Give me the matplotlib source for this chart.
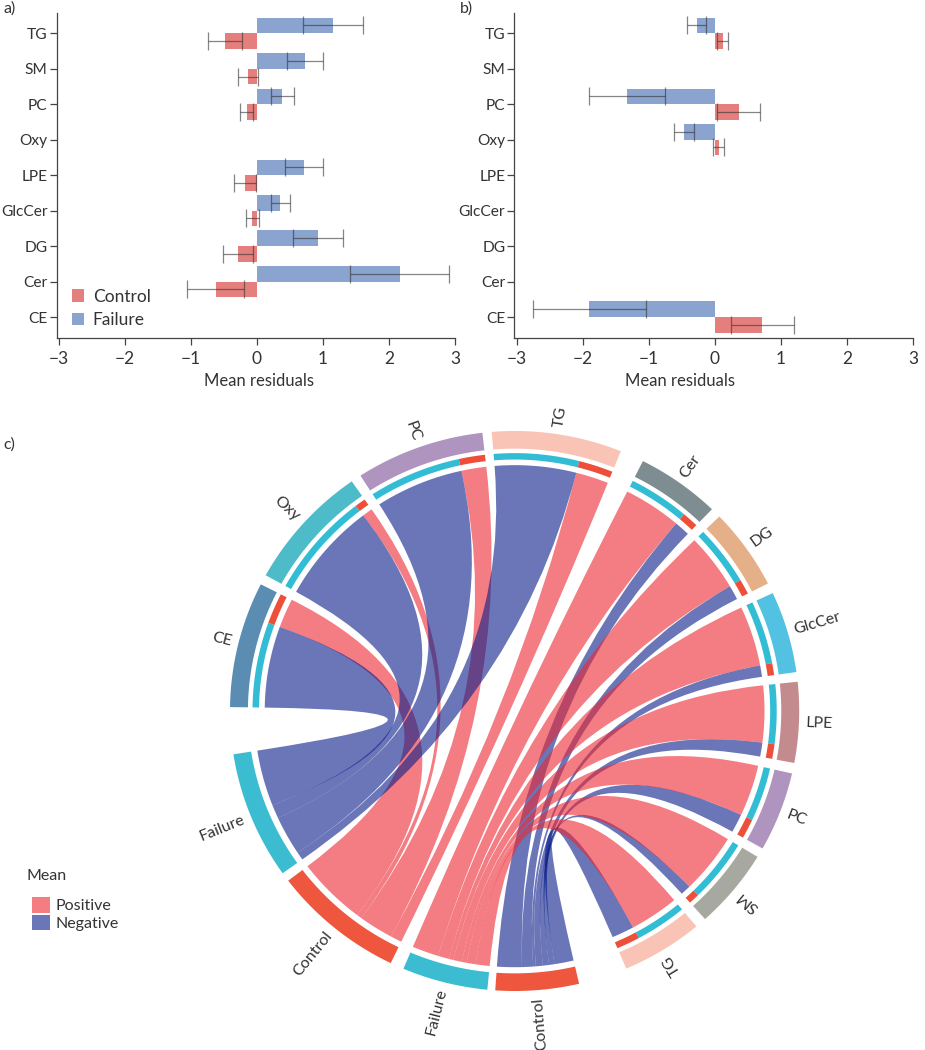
#! /usr/bin python

import numpy as np
import matplotlib
matplotlib.use('agg')
import matplotlib.pyplot as plt
from matplotlib.patches import PathPatch, Patch
from matplotlib.path import Path

#------------------------------------------------------------------------------
# DATA
#------------------------------------------------------------------------------

categories = ['CE', 'Cer', 'DG', 'GlcCer', 'LPE', 'Oxy', 'PC', 'SM', 'TG']

# panel a) mean residuals and error half widths
a_failure = [np.nan, 2.16, 0.92, 0.355, 0.71, np.nan, 0.385, 0.73, 1.15]
a_failure_err = [np.nan, 0.745, 0.38, 0.14, 0.285, np.nan, 0.17, 0.275, 0.455]
a_control = [np.nan, -0.625, -0.282, -0.066, -0.176, np.nan, -0.156, -0.136, -0.485]
a_control_err = [np.nan, 0.425, 0.227, 0.093, 0.169, np.nan, 0.10, 0.153, 0.254]

# panel b)
b_failure = [-1.90, np.nan, np.nan, np.nan, np.nan, -0.469, -1.33, np.nan, -0.277]
b_failure_err = [0.855, np.nan, np.nan, np.nan, np.nan, 0.144, 0.575, np.nan, 0.14]
b_control = [0.716, np.nan, np.nan, np.nan, np.nan, 0.055, 0.358, np.nan, 0.116]
b_control_err = [0.477, np.nan, np.nan, np.nan, np.nan, 0.083, 0.33, np.nan, 0.088]

# panel c) sectors clockwise, link widths at the lipid end in degrees
b_sectors = ['CE', 'Oxy', 'PC', 'TG']
b_to_failure = [19.2, 23.7, 20.5, 18.9]
b_to_control = [6.9, 2.4, 5.8, 7.6]
a_sectors = ['Cer', 'DG', 'GlcCer', 'LPE', 'PC', 'SM', 'TG']
a_to_failure = [13.5, 13.5, 14.2, 13.4, 12.1, 14.2, 11.4]
a_to_control = [3.6, 3.4, 2.7, 3.3, 4.4, 2.4, 5.2]

# widths of the group sectors in degrees
a_control_span = 17.0
a_failure_span = 17.5
b_control_span = 26.9
b_failure_span = 26.5

#------------------------------------------------------------------------------
# SETTINGS
#------------------------------------------------------------------------------

W, H = 925, 1050
plt.rcParams['font.family'] = ['Lato', 'DejaVu Sans']
plt.rcParams['text.color'] = '#333333'
plt.rcParams['axes.labelcolor'] = '#333333'
fontsize = 11.5

col_control = '#e57f7d'
col_failure = '#8aa3cf'
col_pos = '#ed2630'
col_neg = '#071b89'
link_alpha = 0.6
ring_failure = '#33bdd4'
ring_control = '#ee4f3a'

sector_colors = {'CE': '#5b8db3', 'Oxy': '#4dbcc8', 'PC': '#ae94bf', 'TG': '#f9c3b6',
                 'Cer': '#7e8d92', 'DG': '#e5b088', 'GlcCer': '#53c2e2', 'LPE': '#c38b8e',
                 'SM': '#a7a8a0', 'Control': '#ee573d', 'Failure': '#3bbcd0'}

def px_axes(fig, left, top, right, bottom):
    return fig.add_axes([left / W, 1 - bottom / H, (right - left) / W, (bottom - top) / H])

fig = plt.figure(figsize=(W / 100, H / 100), dpi=100, facecolor='white')

#------------------------------------------------------------------------------
# PLOT: bars a) and b)
#------------------------------------------------------------------------------

def bars(ax, failure, failure_err, control, control_err, xmin):
    y = np.arange(len(categories))
    h = 0.44
    ax.barh(y, control, height=-h, align='edge', color=col_control, label='Control')
    ax.barh(y, failure, height=h, align='edge', color=col_failure, label='Failure')
    for vals, errs, off in [(failure, failure_err, h / 2), (control, control_err, -h / 2)]:
        ax.errorbar(vals, y + off, xerr=errs, fmt='none', ecolor='#333333', elinewidth=0.9,
                    capsize=6.5, capthick=0.9, alpha=0.6, zorder=3)
    ax.set_xlim(xmin, 3)
    ax.set_ylim(-0.59, 8.57)
    ax.set_yticks(y)
    ax.set_yticklabels(categories)
    ax.set_xticks(np.arange(-3, 4))
    ax.tick_params(axis='both', length=5, width=0.9, color='#444444', labelcolor='#333333')
    ax.tick_params(axis='x', labelsize=12.5, pad=4)
    ax.tick_params(axis='y', labelsize=11.2, pad=1.5)
    for s in ['top', 'right']:
        ax.spines[s].set_visible(False)
    for s in ['left', 'bottom']:
        ax.spines[s].set_linewidth(0.9)
        ax.spines[s].set_color('#444444')
    ax.set_xlabel('Mean residuals', fontsize=12)

ax_a = px_axes(fig, 56.7, 13, 455, 338)
bars(ax_a, a_failure, a_failure_err, a_control, a_control_err, -3.03)
ax_a.xaxis.set_label_coords(0.508, -0.132)
ax_a.xaxis.label.set_va('center')
ax_a.legend(loc='lower left', bbox_to_anchor=(0.008, -0.008), frameon=False, fontsize=12.5,
            handlelength=0.7, handleheight=0.7, handletextpad=0.5, labelspacing=0.45, borderpad=0.2)

ax_b = px_axes(fig, 514.3, 13, 913.3, 338)
bars(ax_b, b_failure, b_failure_err, b_control, b_control_err, -3.036)
ax_b.xaxis.set_label_coords(0.415, -0.132)
ax_b.xaxis.label.set_va('center')

#------------------------------------------------------------------------------
# PLOT: chord diagram c)
#------------------------------------------------------------------------------

cx, cy, rx, ry = 514.6, 711, 284.6, 280
ax_c = px_axes(fig, cx - rx, cy - ry, cx + rx, cy + ry)
ax_c.set_xlim(-1, 1)
ax_c.set_ylim(-1, 1)
ax_c.axis('off')

r_outer = (1.0, 0.937)
r_ring = (0.921, 0.898)
r_source = 0.878
r_target = 0.915

def arc(a1, a2, r):
    t = np.radians(np.linspace(a1, a2, max(int(abs(a2 - a1) * 2), 2)))
    return np.column_stack([r * np.cos(t), r * np.sin(t)])

def band(a1, a2, r1, r2, color):
    pts = np.vstack([arc(a1, a2, r1), arc(a2, a1, r2)])
    ax_c.fill(pts[:, 0], pts[:, 1], color=color, lw=0, clip_on=False)

def ribbon(a1, a2, b1, b2, color):
    src = arc(a1, a2, r_source)
    tgt = arc(b1, b2, r_target)
    verts = [src[0]]
    codes = [Path.MOVETO]
    verts += list(src[1:])
    codes += [Path.LINETO] * (len(src) - 1)
    verts += [(0, 0), tgt[0]]
    codes += [Path.CURVE3, Path.CURVE3]
    verts += list(tgt[1:])
    codes += [Path.LINETO] * (len(tgt) - 1)
    verts += [(0, 0), src[0], src[0]]
    codes += [Path.CURVE3, Path.CURVE3, Path.CLOSEPOLY]
    ax_c.add_patch(PathPatch(Path(verts, codes), facecolor=color, edgecolor='none',
                             alpha=link_alpha, clip_on=False))

def label(name, a1, a2):
    mid = (a1 + a2) / 2
    x, y = 1.025 * np.cos(np.radians(mid)), 1.025 * np.sin(np.radians(mid))
    if -30 < mid < 90:
        rot, ha = mid, 'left'
    elif mid >= 90:
        rot, ha = mid - 180, 'right'
    else:
        rot, ha = mid + 180, 'right'
    ax_c.text(x, y, name, rotation=rot, rotation_mode='anchor', ha=ha, va='center', fontsize=fontsize)

def sector(name, a1, a2, first_span=None):
    band(a1, a2, r_outer[0], r_outer[1], sector_colors[name])
    label(name, a1, a2)
    if first_span is not None:
        band(a1, a1 - first_span, r_ring[0], r_ring[1], ring_failure)
        band(a1 - first_span, a2, r_ring[0], r_ring[1], ring_control)

# gaps after each sector, clockwise, degrees
gaps_b = [2.1, 2.1, 1.9, 4.9]
gaps_a = [2.1, 2.2, 2.0, 2.2, 2.0, 2.3, 10.0]
gaps_group = [1.6, 2.8, 1.9]

angle = 179.2
b_src = []
for name, f, c, g in zip(b_sectors, b_to_failure, b_to_control, gaps_b):
    sector(name, angle, angle - f - c, f)
    b_src.append((angle, angle - f, angle - f - c))
    angle -= f + c + g
a_src = []
for name, f, c, g in zip(a_sectors, a_to_failure, a_to_control, gaps_a):
    sector(name, angle, angle - f - c, f)
    a_src.append((angle, angle - f, angle - f - c))
    angle -= f + c + g

groups = []
for name, span, g in zip(['Control', 'Failure', 'Control', 'Failure'],
                         [a_control_span, a_failure_span, b_control_span, b_failure_span],
                         gaps_group + [0]):
    sector(name, angle, angle - span)
    groups.append(angle)
    angle -= span + g

def links(names, src, means, start, span, which, color):
    # link ends on the group sector scale with the mean residuals of the bars
    vals = np.array([abs(means[categories.index(n)]) for n in names])
    widths = vals / vals.sum() * span
    pos = start
    for i in range(len(names) - 1, -1, -1):
        s = src[i]
        if which == 'failure':
            a1, a2 = s[0], s[1]
        else:
            a1, a2 = s[1], s[2]
        ribbon(a1, a2, pos, pos - widths[i], color)
        pos -= widths[i]

links(a_sectors, a_src, a_control, groups[0], a_control_span, 'control', col_neg)
links(a_sectors, a_src, a_failure, groups[1], a_failure_span, 'failure', col_pos)
links(b_sectors, b_src, b_control, groups[2], b_control_span, 'control', col_pos)
links(b_sectors, b_src, b_failure, groups[3], b_failure_span, 'failure', col_neg)

#------------------------------------------------------------------------------
# LEGEND + PANEL LETTERS
#------------------------------------------------------------------------------

handles = [Patch(facecolor='#f47d82', label='Positive'), Patch(facecolor='#6a76b8', label='Negative')]
fig.text(27 / W, 1 - 876 / H, 'Mean', fontsize=fontsize, va='center')
fig.legend(handles=handles, loc='upper left', bbox_to_anchor=(32 / W, 1 - 897 / H),
           frameon=False, fontsize=fontsize, handlelength=1.15,
           handleheight=1.15, handletextpad=0.3, labelspacing=0.08, borderpad=0, borderaxespad=0)

fig.text(3 / W, 1 - 9 / H, 'a)', fontsize=fontsize, va='center')
fig.text(460 / W, 1 - 9 / H, 'b)', fontsize=fontsize, va='center')
fig.text(3 / W, 1 - 445 / H, 'c)', fontsize=fontsize, va='center')

fig.savefig('out.png', dpi=100)
plt.close(fig)
print('** END')
